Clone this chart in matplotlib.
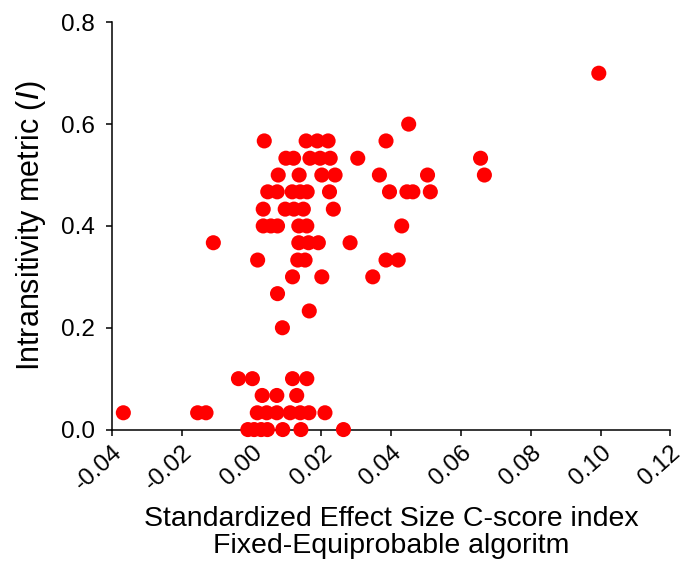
import numpy as np
import matplotlib.pyplot as plt

plt.rcParams['font.family'] = ['Liberation Sans', 'DejaVu Sans']

# SES C-score (x) vs intransitivity metric I (y), grouped by I level
ses = [-0.0011, 0.0007, 0.0027, 0.0045, 0.0089, 0.0141, 0.0263,
       -0.0368, -0.0155, -0.0131, 0.0016, 0.0043, 0.0072, 0.0110, 0.0139, 0.0164, 0.0210,
       0.0030, 0.0072, 0.0129,
       -0.0038, 0.0002, 0.0117, 0.0158,
       0.0088,
       0.0165,
       0.0074,
       0.0117, 0.0201, 0.0347,
       0.0017, 0.0132, 0.0153, 0.0385, 0.0420,
       -0.0110, 0.0135, 0.0163, 0.0191, 0.0282,
       0.0033, 0.0055, 0.0074, 0.0135, 0.0158, 0.0430,
       0.0033, 0.0096, 0.0121, 0.0148, 0.0234,
       0.0046, 0.0073, 0.0116, 0.0139, 0.0159, 0.0223, 0.0395, 0.0445, 0.0462, 0.0512,
       0.0076, 0.0136, 0.0201, 0.0239, 0.0366, 0.0504, 0.0667,
       0.0098, 0.0120, 0.0167, 0.0196, 0.0225, 0.0304, 0.0656,
       0.0036, 0.0156, 0.0188, 0.0219, 0.0385,
       0.0450,
       0.0995]
intrans = [0.0] * 7 + [0.033] * 10 + [0.067] * 3 + [0.1] * 4 + [0.2] + [0.233] + [0.267] \
    + [0.3] * 3 + [0.333] * 5 + [0.367] * 5 + [0.4] * 6 + [0.433] * 5 + [0.467] * 10 \
    + [0.5] * 7 + [0.533] * 7 + [0.567] * 5 + [0.6] + [0.7]

xticks = [-0.04, -0.02, 0.0, 0.02, 0.04, 0.06, 0.08, 0.10, 0.12]
xticklabels = ['-0.04', '-0.02', '0.00', '0.02', '0.04', '0.06', '0.08', '0.10', '0.12']
yticks = [0.0, 0.2, 0.4, 0.6, 0.8]
yticklabels = ['0.0', '0.2', '0.4', '0.6', '0.8']

fig = plt.figure(figsize=(6.84, 5.72), dpi=100)
ax = fig.add_axes([0.164, 0.249, 0.816, 0.712])

ax.scatter(ses, intrans, s=118, color='#ff0000', edgecolors='none', clip_on=False, zorder=3)

ax.set_xlim(-0.04, 0.12)
ax.set_ylim(0, 0.8)
ax.set_xticks(xticks)
ax.set_xticklabels(xticklabels, rotation=42, ha='right', rotation_mode='anchor')
ax.set_yticks(yticks)
ax.set_yticklabels(yticklabels)

for side in ['top', 'right']:
    ax.spines[side].set_visible(False)
for side in ['left', 'bottom']:
    ax.spines[side].set_linewidth(1.1)
ax.tick_params(axis='both', labelsize=17.5, length=4.5, width=1.1, direction='out')
ax.tick_params(axis='x', pad=4)
ax.tick_params(axis='y', pad=8)

ax.set_xlabel('Standardized Effect Size C-score index\nFixed-Equiprobable algoritm',
              fontsize=20.5, linespacing=1.05, labelpad=8)
ax.set_ylabel('Intransitivity metric ($\\it{I}$)', fontsize=22, labelpad=9)

fig.savefig('out.png', dpi=100)
